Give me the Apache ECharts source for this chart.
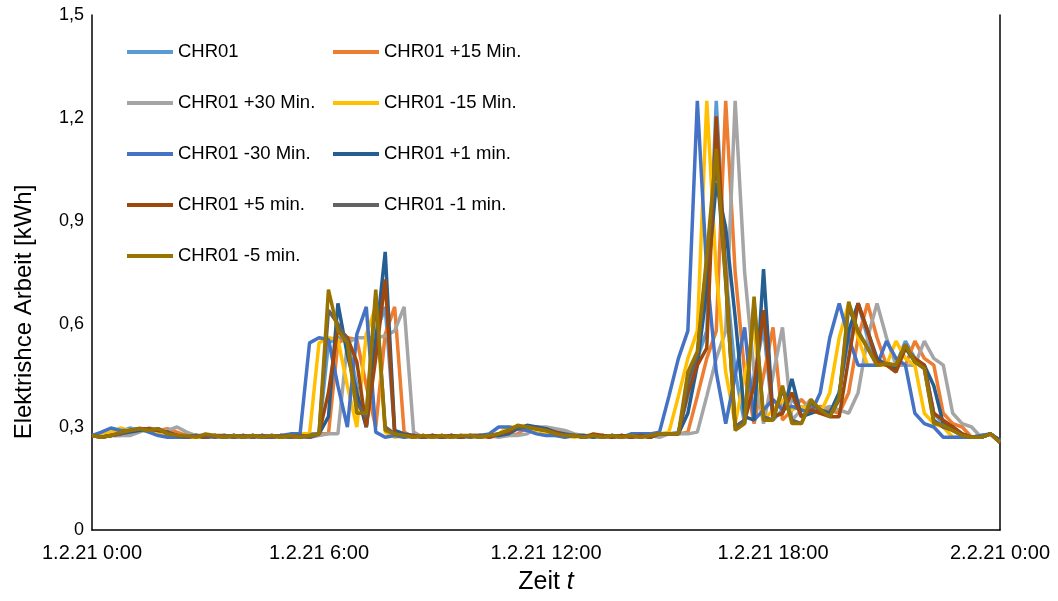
<!DOCTYPE html>
<html>
<head>
<meta charset="utf-8">
<title>Elektrische Arbeit CHR01</title>
<script src="https://cdn.jsdelivr.net/npm/echarts@6/dist/echarts.min.js"></script>
<style>
  html, body { margin: 0; padding: 0; background: #fff; }
  #chart { width: 1058px; height: 601px; }
</style>
</head>
<body>
<div id="chart"></div>
<script>
// 15-min values, 1.2.21 0:00 .. 2.2.21 0:00 (97 points, one row = 2 hours)
const xTickLabels = ['1.2.21 0:00', '1.2.21 6:00', '1.2.21 12:00', '1.2.21 18:00', '2.2.21 0:00'];
const yTickLabels = ['0', '0,3', '0,6', '0,9', '1,2', '1,5'];

const chr01 = [
  0.275, 0.275, 0.275, 0.285, 0.297, 0.29, 0.29, 0.295,
  0.285, 0.275, 0.27, 0.27, 0.27, 0.275, 0.27, 0.275,
  0.27, 0.275, 0.27, 0.275, 0.27, 0.27, 0.275, 0.28,
  0.28, 0.545, 0.56, 0.555, 0.42, 0.30, 0.57, 0.65,
  0.285, 0.27, 0.275, 0.27, 0.275, 0.27, 0.275, 0.27,
  0.275, 0.27, 0.275, 0.275, 0.28, 0.30, 0.30, 0.295,
  0.29, 0.28, 0.275, 0.275, 0.27, 0.275, 0.27, 0.275,
  0.27, 0.275, 0.27, 0.28, 0.28, 0.28, 0.285, 0.39,
  0.50, 0.58, 1.25, 0.75, 0.46, 0.31, 0.45, 0.59,
  0.32, 0.35, 0.38, 0.35, 0.36, 0.35, 0.34, 0.40,
  0.56, 0.66, 0.56, 0.48, 0.48, 0.48, 0.55, 0.50,
  0.48, 0.34, 0.31, 0.30, 0.27, 0.27, 0.275, 0.28,
  0.26
];
const chr01Plus15 = [
  0.275, 0.275, 0.275, 0.275, 0.285, 0.297, 0.29, 0.29,
  0.295, 0.285, 0.275, 0.27, 0.27, 0.27, 0.275, 0.27,
  0.275, 0.27, 0.275, 0.27, 0.275, 0.27, 0.27, 0.275,
  0.28, 0.28, 0.545, 0.56, 0.555, 0.42, 0.30, 0.57,
  0.65, 0.285, 0.27, 0.275, 0.27, 0.275, 0.27, 0.275,
  0.27, 0.275, 0.27, 0.275, 0.275, 0.28, 0.30, 0.30,
  0.295, 0.29, 0.28, 0.275, 0.275, 0.27, 0.275, 0.27,
  0.275, 0.27, 0.275, 0.27, 0.28, 0.28, 0.28, 0.285,
  0.39, 0.50, 0.58, 1.25, 0.75, 0.46, 0.31, 0.45,
  0.59, 0.32, 0.35, 0.38, 0.35, 0.36, 0.35, 0.34,
  0.40, 0.56, 0.66, 0.56, 0.48, 0.48, 0.48, 0.55,
  0.50, 0.48, 0.34, 0.31, 0.30, 0.27, 0.27, 0.28,
  0.26
];
const chr01Plus30 = [
  0.275, 0.275, 0.275, 0.275, 0.275, 0.285, 0.297, 0.29,
  0.29, 0.30, 0.285, 0.275, 0.27, 0.27, 0.27, 0.275,
  0.27, 0.275, 0.27, 0.275, 0.27, 0.275, 0.27, 0.27,
  0.275, 0.28, 0.28, 0.545, 0.56, 0.56, 0.56, 0.565,
  0.58, 0.65, 0.285, 0.27, 0.275, 0.27, 0.275, 0.27,
  0.275, 0.27, 0.275, 0.27, 0.275, 0.275, 0.28, 0.30,
  0.30, 0.295, 0.29, 0.28, 0.275, 0.275, 0.27, 0.275,
  0.27, 0.275, 0.27, 0.275, 0.27, 0.28, 0.28, 0.28,
  0.285, 0.39, 0.50, 0.58, 1.25, 0.75, 0.46, 0.31,
  0.45, 0.59, 0.32, 0.35, 0.38, 0.35, 0.36, 0.35,
  0.34, 0.40, 0.56, 0.66, 0.56, 0.48, 0.48, 0.48,
  0.55, 0.50, 0.48, 0.34, 0.31, 0.30, 0.27, 0.28,
  0.26
];
const chr01Minus15 = [
  0.275, 0.275, 0.285, 0.297, 0.29, 0.29, 0.295, 0.285,
  0.275, 0.27, 0.27, 0.27, 0.275, 0.27, 0.275, 0.27,
  0.275, 0.27, 0.275, 0.27, 0.27, 0.275, 0.28, 0.28,
  0.545, 0.56, 0.555, 0.42, 0.30, 0.57, 0.65, 0.285,
  0.27, 0.275, 0.27, 0.275, 0.27, 0.275, 0.27, 0.275,
  0.27, 0.275, 0.275, 0.28, 0.30, 0.30, 0.295, 0.29,
  0.28, 0.275, 0.275, 0.27, 0.275, 0.27, 0.275, 0.27,
  0.275, 0.27, 0.28, 0.28, 0.28, 0.285, 0.39, 0.50,
  0.58, 1.25, 0.75, 0.46, 0.31, 0.45, 0.59, 0.32,
  0.35, 0.38, 0.35, 0.36, 0.35, 0.34, 0.40, 0.56,
  0.66, 0.56, 0.48, 0.48, 0.48, 0.55, 0.50, 0.48,
  0.34, 0.31, 0.30, 0.27, 0.27, 0.27, 0.27, 0.28,
  0.26
];
const chr01Minus30 = [
  0.275, 0.285, 0.297, 0.29, 0.29, 0.295, 0.285, 0.275,
  0.27, 0.27, 0.27, 0.275, 0.27, 0.275, 0.27, 0.275,
  0.27, 0.275, 0.27, 0.27, 0.275, 0.28, 0.28, 0.545,
  0.56, 0.555, 0.42, 0.30, 0.57, 0.65, 0.285, 0.27,
  0.275, 0.27, 0.275, 0.27, 0.275, 0.27, 0.275, 0.27,
  0.275, 0.275, 0.28, 0.30, 0.30, 0.295, 0.29, 0.28,
  0.275, 0.275, 0.27, 0.275, 0.27, 0.275, 0.27, 0.275,
  0.27, 0.28, 0.28, 0.28, 0.285, 0.39, 0.50, 0.58,
  1.25, 0.75, 0.46, 0.31, 0.45, 0.59, 0.32, 0.35,
  0.38, 0.35, 0.36, 0.35, 0.34, 0.40, 0.56, 0.66,
  0.56, 0.48, 0.48, 0.48, 0.55, 0.50, 0.48, 0.34,
  0.31, 0.30, 0.27, 0.27, 0.27, 0.27, 0.275, 0.28,
  0.26
];
const chr01Plus1 = [
  0.275, 0.27, 0.275, 0.28, 0.285, 0.29, 0.295, 0.29,
  0.285, 0.275, 0.27, 0.275, 0.27, 0.275, 0.27, 0.275,
  0.27, 0.275, 0.27, 0.275, 0.27, 0.275, 0.27, 0.275,
  0.28, 0.33, 0.66, 0.51, 0.40, 0.30, 0.55, 0.81,
  0.29, 0.28, 0.275, 0.27, 0.275, 0.27, 0.275, 0.27,
  0.275, 0.27, 0.275, 0.275, 0.28, 0.295, 0.305, 0.30,
  0.295, 0.285, 0.28, 0.275, 0.275, 0.27, 0.275, 0.27,
  0.275, 0.27, 0.275, 0.27, 0.28, 0.28, 0.28, 0.34,
  0.48, 0.70, 1.01, 0.88, 0.62, 0.33, 0.32, 0.76,
  0.33, 0.34, 0.44, 0.33, 0.34, 0.35, 0.34, 0.40,
  0.58, 0.66, 0.58, 0.50, 0.48, 0.47, 0.53, 0.49,
  0.48, 0.42, 0.31, 0.30, 0.28, 0.27, 0.27, 0.28,
  0.26
];
const chr01Plus5 = [
  0.275, 0.27, 0.275, 0.28, 0.29, 0.295, 0.295, 0.29,
  0.285, 0.275, 0.27, 0.275, 0.27, 0.275, 0.275, 0.27,
  0.275, 0.27, 0.275, 0.27, 0.275, 0.27, 0.275, 0.27,
  0.28, 0.40, 0.59, 0.56, 0.49, 0.30, 0.50, 0.73,
  0.28, 0.275, 0.275, 0.27, 0.275, 0.27, 0.275, 0.27,
  0.275, 0.275, 0.27, 0.28, 0.285, 0.30, 0.30, 0.295,
  0.29, 0.285, 0.275, 0.275, 0.27, 0.28, 0.275, 0.27,
  0.275, 0.27, 0.275, 0.27, 0.28, 0.28, 0.28, 0.40,
  0.48, 0.53, 1.205, 0.75, 0.30, 0.32, 0.42, 0.64,
  0.33, 0.34, 0.40, 0.33, 0.35, 0.34, 0.33, 0.33,
  0.50, 0.66, 0.58, 0.49, 0.48, 0.46, 0.53, 0.50,
  0.48, 0.34, 0.32, 0.30, 0.28, 0.27, 0.27, 0.28,
  0.255
];
const chr01Minus1 = [
  0.275, 0.27, 0.275, 0.28, 0.29, 0.295, 0.29, 0.295,
  0.28, 0.275, 0.27, 0.275, 0.275, 0.27, 0.275, 0.27,
  0.275, 0.27, 0.275, 0.27, 0.275, 0.27, 0.275, 0.27,
  0.28, 0.64, 0.60, 0.55, 0.37, 0.33, 0.68, 0.30,
  0.28, 0.275, 0.27, 0.275, 0.27, 0.275, 0.27, 0.275,
  0.27, 0.275, 0.275, 0.28, 0.29, 0.30, 0.30, 0.295,
  0.29, 0.28, 0.275, 0.275, 0.27, 0.275, 0.27, 0.275,
  0.27, 0.275, 0.27, 0.275, 0.28, 0.28, 0.28, 0.43,
  0.51, 0.78, 1.08, 0.72, 0.30, 0.32, 0.66, 0.33,
  0.32, 0.41, 0.32, 0.31, 0.37, 0.35, 0.33, 0.38,
  0.65, 0.58, 0.53, 0.48, 0.485, 0.48, 0.54, 0.49,
  0.47, 0.32, 0.30, 0.29, 0.275, 0.27, 0.27, 0.28,
  0.255
];
const chr01Minus5 = [
  0.275, 0.27, 0.275, 0.285, 0.29, 0.295, 0.29, 0.295,
  0.28, 0.275, 0.275, 0.27, 0.28, 0.275, 0.27, 0.275,
  0.27, 0.275, 0.27, 0.275, 0.27, 0.275, 0.27, 0.275,
  0.28, 0.70, 0.58, 0.545, 0.34, 0.34, 0.70, 0.29,
  0.28, 0.275, 0.27, 0.275, 0.27, 0.275, 0.27, 0.275,
  0.275, 0.27, 0.275, 0.28, 0.29, 0.305, 0.30, 0.295,
  0.29, 0.28, 0.275, 0.275, 0.27, 0.275, 0.27, 0.275,
  0.27, 0.275, 0.27, 0.275, 0.28, 0.28, 0.28, 0.46,
  0.52, 0.80, 1.11, 0.73, 0.29, 0.31, 0.68, 0.32,
  0.32, 0.42, 0.31, 0.31, 0.38, 0.35, 0.33, 0.385,
  0.665, 0.575, 0.53, 0.48, 0.485, 0.48, 0.54, 0.49,
  0.47, 0.31, 0.305, 0.29, 0.275, 0.27, 0.27, 0.28,
  0.255
];

const FONT = '"Liberation Sans", Arial, sans-serif';

// x in hours, one value every 15 min
const toPoints = vals => vals.map((v, i) => [i * 0.25, v]);

const line = (name, data, color) => ({
  name,
  type: 'line',
  data: toPoints(data),
  symbol: 'none',
  smooth: false,
  lineStyle: { width: 3.5, color },
  itemStyle: { color },
});

const series = [
  line('CHR01', chr01, '#5B9BD5'),
  line('CHR01 +15 Min.', chr01Plus15, '#ED7D31'),
  line('CHR01 +30 Min.', chr01Plus30, '#A5A5A5'),
  line('CHR01 -15 Min.', chr01Minus15, '#FFC000'),
  line('CHR01 -30 Min.', chr01Minus30, '#4472C4'),
  line('CHR01 +1 min.', chr01Plus1, '#255E91'),
  line('CHR01 +5 min.', chr01Plus5, '#9E480E'),
  line('CHR01 -1 min.', chr01Minus1, '#636363'),
  line('CHR01 -5 min.', chr01Minus5, '#997300'),
];

const legendBase = {
  orient: 'vertical',
  top: 36,
  padding: 5,
  icon: 'rect',
  itemWidth: 46,
  itemHeight: 4,
  itemGap: 29,
  textStyle: { fontFamily: FONT, fontSize: 18.5, lineHeight: 22, color: '#000' },
};

const chart = echarts.init(document.getElementById('chart'));

const option = {
  animation: false,
  backgroundColor: '#fff',
  textStyle: { fontFamily: FONT },
  grid: { left: 92, right: 58, top: 15, bottom: 71 },
  legend: [
    Object.assign({}, legendBase, {
      left: 122,
      data: ['CHR01', 'CHR01 +30 Min.', 'CHR01 -30 Min.', 'CHR01 +5 min.', 'CHR01 -5 min.'],
    }),
    Object.assign({}, legendBase, {
      left: 328,
      data: ['CHR01 +15 Min.', 'CHR01 -15 Min.', 'CHR01 +1 min.', 'CHR01 -1 min.'],
    }),
  ],
  xAxis: {
    type: 'value',
    min: 0,
    max: 24,
    interval: 6,
    name: '{n|Zeit }{i|t}',
    nameLocation: 'middle',
    nameGap: 40,
    nameTextStyle: {
      rich: {
        n: { fontFamily: FONT, fontSize: 25, color: '#000' },
        i: { fontFamily: FONT, fontSize: 25, fontStyle: 'italic', color: '#000' },
      },
    },
    axisLine: { lineStyle: { color: '#000', width: 1.5 } },
    axisTick: { show: false },
    splitLine: { show: false },
    axisLabel: {
      margin: 13,
      fontFamily: FONT,
      fontSize: 20,
      color: '#000',
      formatter: v => xTickLabels[Math.round(v / 6)],
    },
  },
  yAxis: [
    {
      type: 'value',
      min: 0,
      max: 1.5,
      interval: 0.3,
      axisLine: { show: true, lineStyle: { color: '#000', width: 1.5 } },
      axisTick: { show: false },
      splitLine: { show: false },
      axisLabel: {
        margin: 8,
        fontFamily: FONT,
        fontSize: 18,
        color: '#000',
        formatter: v => yTickLabels[Math.round(v / 0.3)],
      },
    },
    {
      type: 'value',
      position: 'right',
      min: 0,
      max: 1.5,
      interval: 0.3,
      axisLine: { show: true, lineStyle: { color: '#000', width: 1.5 } },
      axisTick: { show: false },
      axisLabel: { show: false },
      splitLine: { show: false },
    },
  ],
  graphic: [
    {
      type: 'text',
      x: 24,
      y: 312,
      rotation: Math.PI / 2,
      style: {
        text: 'Elektrishce Arbeit [kWh]',
        fontFamily: FONT,
        fontSize: 24,
        fill: '#000',
        align: 'center',
        verticalAlign: 'middle',
      },
    },
  ],
  series,
};

chart.setOption(option);
</script>
</body>
</html>
